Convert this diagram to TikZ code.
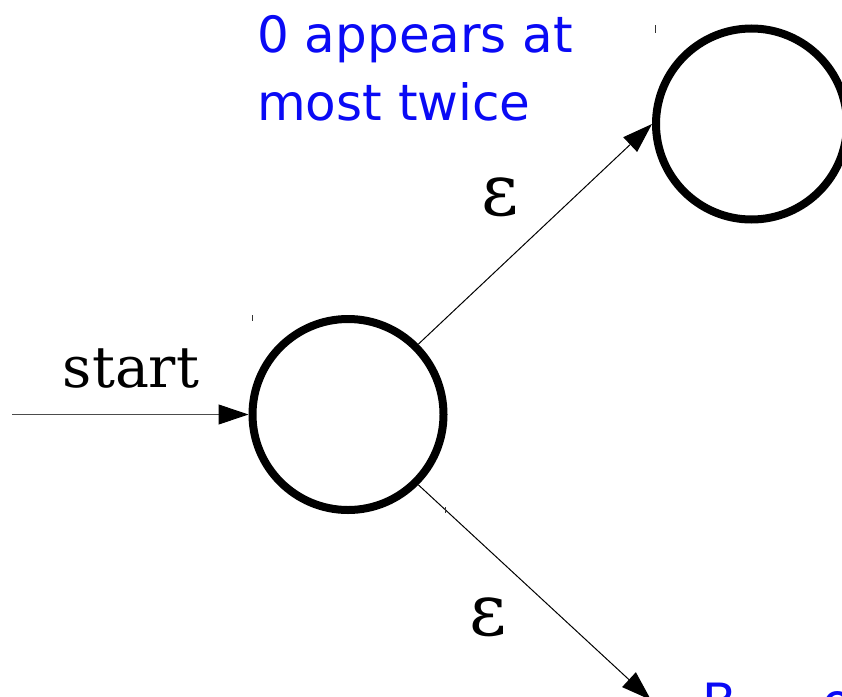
\documentclass[tikz,border=0pt]{standalone}
\usepackage{fontspec}
\setmainfont{DejaVu Serif}
\newfontfamily\handfont{DejaVu Sans}
\usetikzlibrary{arrows.meta}
\definecolor{noteblue}{RGB}{10,10,245}
\begin{document}
\begin{tikzpicture}[x=1pt,y=-1pt,
  state/.style={circle,draw=black,line width=8pt,minimum size=191pt,inner sep=0pt},
  trans/.style={draw=black,line width=1pt,-{Triangle[length=30pt,width=20pt,color=black]}},
  lbl/.style={font=\fontsize{57}{60}\selectfont},
  eps/.style={font=\fontsize{72}{76}\selectfont},
  note/.style={text=noteblue,font=\handfont\fontsize{50}{52}\selectfont,anchor=base west,inner sep=0pt},
  tick/.style={draw=black!80,line width=0.8pt}]
\useasboundingbox (0,0) rectangle (842,696);
\begin{scope}
\clip (0,0) rectangle (842,696);
\node[state] (s0) at (348,414.5) {};
\node[state] (s1) at (751.5,124) {};
\coordinate (s2w) at (651,700);
\coordinate (in) at (12,414.5);
\draw[trans,draw=black!70] (in) -- (s0.west);
\draw[trans] (s0.45) -- (s1.west);
\draw[trans] (s0.-45) -- (s2w);
\node[lbl,anchor=base,inner sep=0pt] (startlbl) at (131,387) {start};
\node[eps,inner sep=0pt] (e1) at (500,197) {ε};
\node[eps,inner sep=0pt] (e2) at (488,617) {ε};
\node[note] (n1) at (257,52) {0 appears at};
\node[note] (n2) at (257,120) {most twice};
\node[note] (n3) at (702,719) {B};
\node[note] (n4) at (822,719) {o};
\draw[tick] (252,315) -- (252,321);
\draw[tick] (655,25) -- (655,33);
\draw[tick] (445,507) -- (445,513);
\end{scope}
\end{tikzpicture}
\end{document}
